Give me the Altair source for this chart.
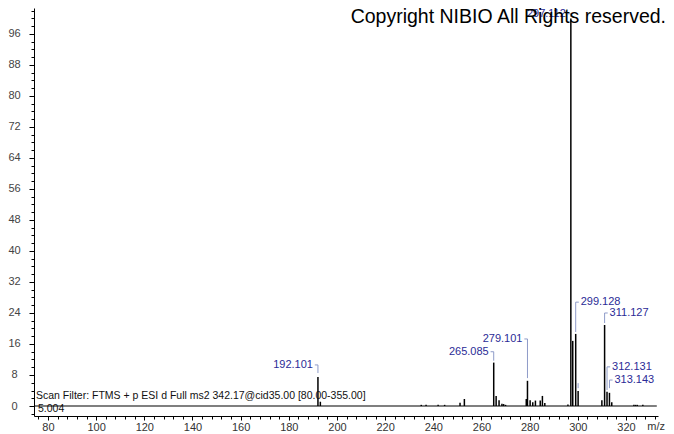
import altair as alt
import pandas as pd

# ---- peak list (m/z, relative abundance %) ----
mz = [192.101, 193.1, 235.0, 237.0, 242.0, 244.7, 251.1, 252.9,
      265.085, 266.09, 267.3, 268.5, 269.2, 270.0,
      278.6, 279.101, 280.2, 281.3, 282.4, 284.4, 285.3, 286.3,
      295.9, 297.112, 297.9, 299.128, 300.13,
      310.0, 311.127, 312.131, 313.143, 314.1,
      323.3, 324.0, 324.7, 327.0]
rel = [7.5, 1.1, 0.3, 0.3, 0.3, 0.3, 0.85, 1.8,
       11.2, 2.6, 1.5, 0.6, 0.5, 0.3,
       1.8, 6.5, 1.5, 0.95, 1.4, 1.4, 2.6, 0.8,
       0.4, 100.0, 16.8, 18.6, 3.9,
       1.5, 20.9, 3.7, 3.4, 1.0,
       0.3, 0.3, 0.3, 0.3]

# ---- peak annotations ----
lab_mz = [192.101, 265.085, 279.101, 297.112, 299.128, 311.127, 312.131, 313.143]
lab_text = ["192.101", "265.085", "279.101", "297.112", "299.128", "311.127", "312.131", "313.143"]
lab_y = [10.6, 14.0, 17.3, 101.2, 26.8, 24.0, 10.1, 6.7]
lab_end = [8.5, 11.7, 7.2, 100.4, 19.1, 21.4, 4.1, 4.6]
lab_side = ["L", "L", "L", "L", "R", "R", "R", "R"]
# an unlabeled connector
extra_mz = [300.13]
extra_top = [5.9]
extra_end = [4.6]

# ---- axes ----
x_domain = [74.2, 333.3]
y_domain = [-2.58, 102.7]
x_ticks = list(range(76, 333, 4))
y_ticks = list(range(-2, 103, 2))
baseline_x = [74.5, 332.8]

scan_text = "Scan Filter: FTMS + p ESI d Full ms2 342.17@cid35.00 [80.00-355.00]"
sub_text = "5.004"
copyright_text = "Copyright NIBIO All Rights reserved."
x_title = "m/z"

FONT = "Liberation Sans"
LABEL_BLUE = "#2b2b96"
CONN = "#8e9bc8"

peaks = pd.DataFrame({"mz": mz, "rel": rel, "base": [0.0] * len(mz)})
labels = pd.DataFrame({"mz": lab_mz, "text": lab_text, "y": lab_y, "yend": lab_end, "side": lab_side})
labels["hx"] = [m - 1.3 if s == "L" else m + 1.3 for m, s in zip(lab_mz, lab_side)]
extra = pd.DataFrame({"mz": extra_mz, "y": extra_top, "yend": extra_end})
baseline = pd.DataFrame({"x": [baseline_x[0]], "x2": [baseline_x[1]], "y": [0.0]})

xs = alt.Scale(domain=x_domain, nice=False, zero=False)
ys = alt.Scale(domain=y_domain, nice=False, zero=False)

x_axis = alt.Axis(
    values=x_ticks, tickCount=200, title=None, grid=False, format="d",
    labelExpr="datum.value % 20 === 0 ? datum.label : ''",
    tickSize={"condition": {"test": "datum.value % 20 === 0", "value": 4}, "value": 3},
    labelPadding=1, labelFont=FONT, labelFontSize=11, labelColor="#333333",
    domainColor="black", tickColor="black", labelOverlap=False, labelFlush=False,
)
y_axis = alt.Axis(
    values=y_ticks, tickCount=200, title=None, grid=False, format="d",
    labelExpr="datum.value % 8 === 0 ? datum.label : ''",
    tickSize={"condition": {"test": "datum.value % 8 === 0", "value": 5}, "value": 3},
    labelPadding=15, labelAlign="center", labelBaseline="middle",
    labelFont=FONT, labelFontSize=11, labelColor="#444444",
    domainColor="black", tickColor="black", labelOverlap=False, labelFlush=False,
)

bars = alt.Chart(peaks).mark_rule(color="black", strokeWidth=1.5).encode(
    x=alt.X("mz:Q", scale=xs, axis=x_axis),
    y=alt.Y("base:Q", scale=ys, axis=y_axis),
    y2="rel:Q",
)

base_line = alt.Chart(baseline).mark_rule(color="black", strokeWidth=1.2).encode(
    x="x:Q", x2="x2:Q", y="y:Q"
)

vconn = alt.Chart(labels).mark_rule(color=CONN, strokeWidth=1).encode(
    x="mz:Q", y="y:Q", y2="yend:Q"
)
hconn = alt.Chart(labels).mark_rule(color=CONN, strokeWidth=1).encode(
    x="mz:Q", x2="hx:Q", y="y:Q"
)
econn = alt.Chart(extra).mark_rule(color=CONN, strokeWidth=1).encode(
    x="mz:Q", y="y:Q", y2="yend:Q"
)

txt_left = alt.Chart(labels).transform_filter("datum.side === 'L'").mark_text(
    align="right", baseline="middle", dx=-5, font=FONT, fontSize=11, color=LABEL_BLUE
).encode(x="mz:Q", y="y:Q", text="text:N")
txt_right = alt.Chart(labels).transform_filter("datum.side === 'R'").mark_text(
    align="left", baseline="middle", dx=5, font=FONT, fontSize=11, color=LABEL_BLUE
).encode(x="mz:Q", y="y:Q", text="text:N")

scan = alt.Chart(pd.DataFrame({"t": [scan_text]})).mark_text(
    align="left", baseline="middle", font=FONT, fontSize=10.5, color="#111111"
).encode(x=alt.value(2), y=alt.value(388), text="t:N")
sub = alt.Chart(pd.DataFrame({"t": [sub_text]})).mark_text(
    align="left", baseline="middle", font=FONT, fontSize=10.5, color="#111111"
).encode(x=alt.value(4), y=alt.value(401), text="t:N")
mzlab = alt.Chart(pd.DataFrame({"t": [x_title]})).mark_text(
    align="right", baseline="top", font=FONT, fontSize=11, color="#333333"
).encode(x=alt.value(631), y=alt.value(413), text="t:N")
copy = alt.Chart(pd.DataFrame({"t": [copyright_text]})).mark_text(
    align="right", baseline="alphabetic", font=FONT, fontSize=19.5, color="black"
).encode(x=alt.value(632), y=alt.value(14.5), text="t:N")

chart = alt.layer(
    sub, bars, base_line, vconn, hconn, econn, txt_left, txt_right, scan, mzlab, copy
).properties(
    width=624, height=408,
    autosize=alt.AutoSizeParams(type="none"),
    padding={"left": 26, "top": 0, "right": 8, "bottom": 18},
    background="white",
).configure_view(stroke=None)

chart.save("out.html", embed_options={"renderer": "svg", "actions": False})
